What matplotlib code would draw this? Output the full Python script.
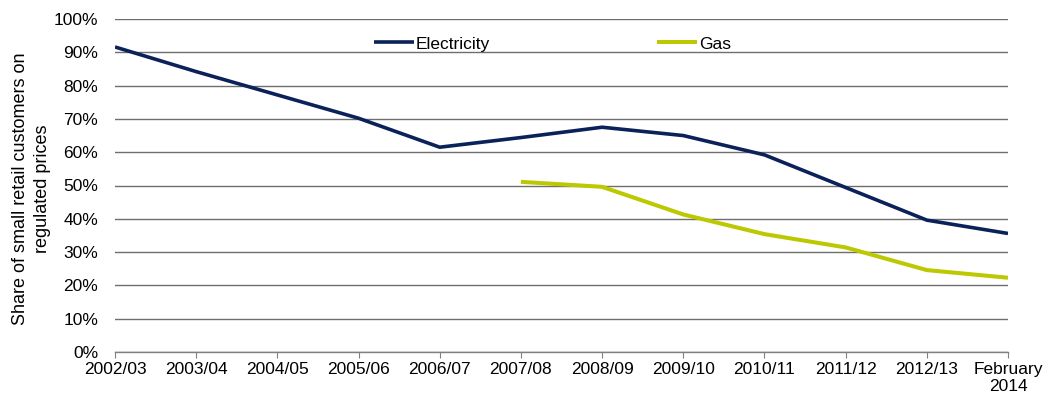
import matplotlib
matplotlib.use("Agg")
import matplotlib.pyplot as plt
import numpy as np

plt.rcParams['font.family'] = ['Liberation Sans', 'DejaVu Sans']

categories = ["2002/03", "2003/04", "2004/05", "2005/06", "2006/07", "2007/08",
              "2008/09", "2009/10", "2010/11", "2011/12", "2012/13", "February\n2014"]
electricity = [91.6, 84.2, 77.2, 70.2, 61.5, 64.4, 67.5, 65.0, 59.2, 49.4, 39.6, 35.6]
gas_categories = categories[5:]
gas = [51.1, 49.6, 41.3, 35.4, 31.4, 24.6, 22.3]
yticks = list(range(0, 101, 10))

FS = 12.5

fig = plt.figure(figsize=(10.44, 4.01), dpi=100)
ax = fig.add_axes([115/1044, 1-352/401, (1008-115)/1044, (352-19)/401])

x = np.arange(len(categories))
xg = x[5:]
ax.plot(x, electricity, color='#0a2159', lw=2.6, label='Electricity', solid_capstyle='butt', zorder=3)
ax.plot(xg, gas, color='#bcc800', lw=2.9, label='Gas', solid_capstyle='butt', zorder=3)

ax.set_xlim(0, len(categories)-1)
ax.set_ylim(0, 100)
ax.set_yticks(yticks)
ax.set_yticklabels([f"{v}%" for v in yticks])
ax.set_xticks(x)
ax.set_xticklabels(categories, linespacing=1.1)
ax.yaxis.grid(True, color='#6e6e6e', lw=1)
ax.set_axisbelow(True)
for s in ['top', 'right', 'left']:
    ax.spines[s].set_visible(False)
ax.spines['bottom'].set_color('#808080')
ax.spines['bottom'].set_linewidth(1)
ax.tick_params(axis='y', length=0, labelsize=FS, pad=12, colors='black')
ax.tick_params(axis='x', direction='out', length=4.5, color='#808080', labelsize=FS, pad=3)

ax.set_ylabel("Share of small retail customers on\nregulated prices", fontsize=13, linespacing=1.35)
ax.yaxis.set_label_coords(-0.072, 0.49)

leg = ax.legend(loc='center', bbox_to_anchor=(0.49, 0.925), ncol=2, frameon=False,
                fontsize=FS, handlelength=2.3, handletextpad=0.1, columnspacing=9.6)

fig.savefig("out.png", dpi=100)
